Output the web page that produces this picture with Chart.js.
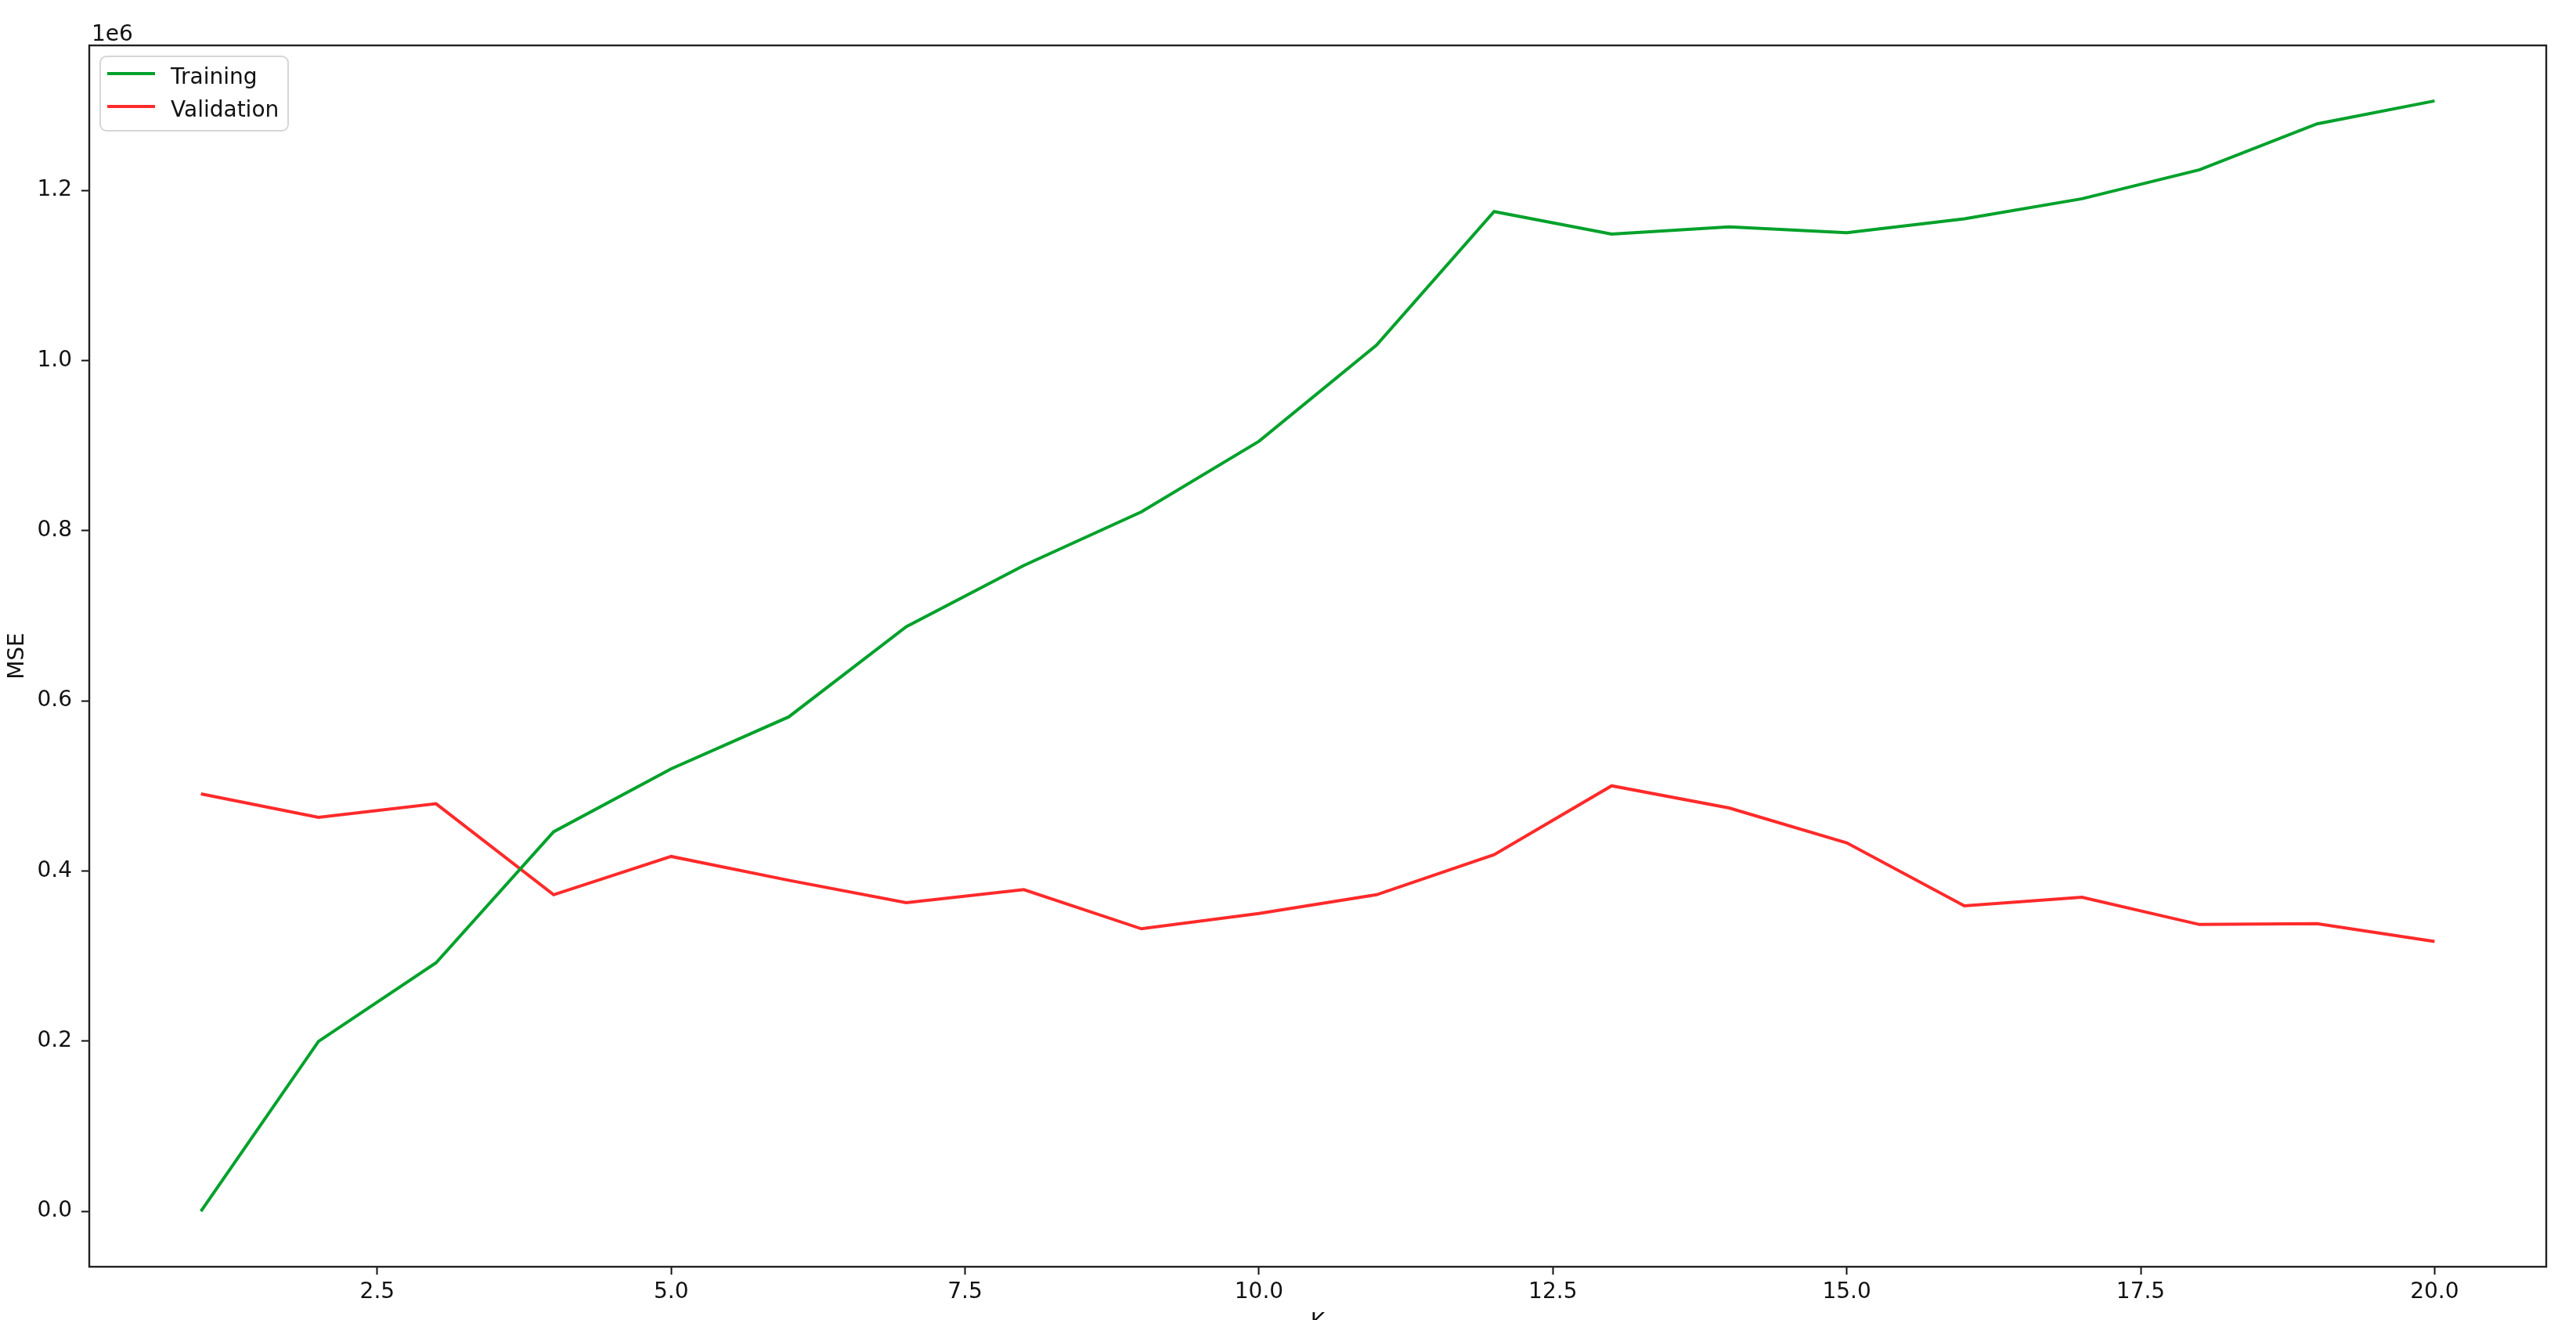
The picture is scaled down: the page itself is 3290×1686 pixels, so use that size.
<!DOCTYPE html>
<html>
<head>
<meta charset="utf-8">
<title>Training vs Validation MSE</title>
<script src="https://cdn.jsdelivr.net/npm/chart.js@4.4.1/dist/chart.umd.min.js"></script>
<style>
  html, body { margin: 0; padding: 0; background: #fff; overflow: hidden; }
  canvas { display: block; }
</style>
</head>
<body>
<canvas id="mse-chart" width="3290" height="1713"></canvas>
<script>
// --- data ---
const ks = [1, 2, 3, 4, 5, 6, 7, 8, 9, 10, 11, 12, 13, 14, 15, 16, 17, 18, 19, 20];
const trainMse = [0, 199600, 292000, 446000, 520000, 581000, 687000, 759000, 822000, 905000,
  1018000, 1175000, 1148500, 1157000, 1150000, 1166500, 1190000, 1224000, 1278000, 1305000];
const valMse = [490600, 463000, 479000, 372000, 417000, 389000, 362700, 378000, 332000, 350000,
  372000, 419000, 500000, 474000, 433000, 359000, 369000, 337000, 338000, 317000];
const xTicks = [2.5, 5.0, 7.5, 10.0, 12.5, 15.0, 17.5, 20.0];
const yTicks = [0, 200000, 400000, 600000, 800000, 1000000, 1200000];
const seriesLabels = ['Training', 'Validation'];
const seriesColors = ['#00a12b', '#ff2a2a'];

// matplotlib-style 5% margins
function padRange(vals) {
  const lo = Math.min(...vals), hi = Math.max(...vals), m = (hi - lo) * 0.05;
  return [lo - m, hi + m];
}
const [xMin, xMax] = padRange(ks);
const [yMin, yMax] = padRange(trainMse.concat(valMse));

const FONT = 'DejaVu Sans';
Chart.defaults.font.family = FONT;
Chart.defaults.font.size = 28;
Chart.defaults.color = '#111';

// spines + offset text + legend, drawn on top like matplotlib
const frame = {
  id: 'frame',
  afterDatasetsDraw(chart) {
    const { ctx, chartArea: a } = chart;
    ctx.save();
    ctx.strokeStyle = '#222';
    ctx.lineWidth = 2.4;
    ctx.strokeRect(a.left, a.top, a.right - a.left, a.bottom - a.top);

    ctx.fillStyle = '#111';
    ctx.font = `28px "${FONT}"`;
    ctx.textBaseline = 'alphabetic';
    ctx.textAlign = 'left';
    ctx.fillText('1e6', 117, 52);

    // legend box
    const bx = 128, by = 72, bw = 240, bh = 95;
    ctx.beginPath();
    ctx.roundRect(bx, by, bw, bh, 8);
    ctx.fillStyle = 'rgba(255,255,255,0.8)';
    ctx.fill();
    ctx.strokeStyle = '#d6d6d6';
    ctx.lineWidth = 2;
    ctx.stroke();
    chart.data.datasets.forEach((ds, i) => {
      const ly = 94 + i * 42;
      ctx.beginPath();
      ctx.moveTo(137, ly);
      ctx.lineTo(198, ly);
      ctx.strokeStyle = ds.borderColor;
      ctx.lineWidth = 4;
      ctx.stroke();
      ctx.fillStyle = '#111';
      ctx.fillText(ds.label, 218, ly + 13);
    });
    ctx.restore();
  }
};

new Chart(document.getElementById('mse-chart'), {
  type: 'line',
  data: {
    datasets: [
      {
        label: seriesLabels[0],
        data: ks.map((k, i) => ({ x: k, y: trainMse[i] })),
        borderColor: seriesColors[0],
      },
      {
        label: seriesLabels[1],
        data: ks.map((k, i) => ({ x: k, y: valMse[i] })),
        borderColor: seriesColors[1],
      },
    ].map(d => Object.assign(d, { borderWidth: 4, pointRadius: 0, tension: 0, fill: false })),
  },
  options: {
    responsive: false,
    animation: false,
    layout: { padding: { left: 0, right: 38, top: 58, bottom: 0 } },
    plugins: { legend: { display: false }, tooltip: { enabled: false } },
    scales: {
      x: {
        type: 'linear',
        min: xMin, max: xMax,
        afterBuildTicks: s => { s.ticks = xTicks.map(v => ({ value: v })); },
        afterFit: s => { s.height = 1713 - 1618; },
        ticks: { padding: 6, maxRotation: 0, callback: v => v.toFixed(1) },
        grid: { drawOnChartArea: false, tickLength: 10, tickWidth: 2, tickColor: '#111' },
        border: { display: false },
        title: { display: true, text: 'K', padding: 6, color: '#111' },
      },
      y: {
        type: 'linear',
        min: yMin, max: yMax,
        afterBuildTicks: s => { s.ticks = yTicks.map(v => ({ value: v })); },
        afterFit: s => { s.width = 114; },
        ticks: { padding: 12, callback: v => (v / 1e6).toFixed(1) },
        grid: { drawOnChartArea: false, tickLength: 10, tickWidth: 2, tickColor: '#111' },
        border: { display: false },
        title: { display: true, text: 'MSE', padding: 6, color: '#111' },
      },
    },
  },
  plugins: [frame],
});
</script>
</body>
</html>
